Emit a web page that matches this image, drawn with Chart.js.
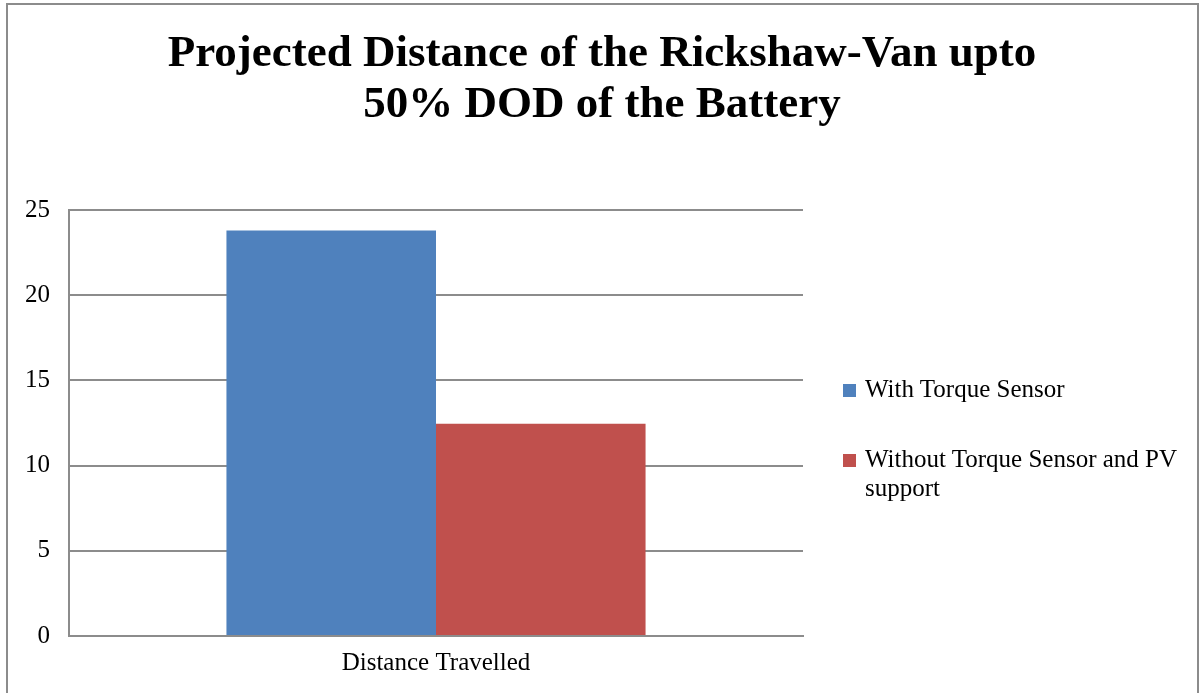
<!DOCTYPE html>
<html>
<head>
<meta charset="utf-8">
<script src="https://cdn.jsdelivr.net/npm/chart.js@4/dist/chart.umd.min.js"></script>
<style>
    html, body { margin: 0; padding: 0; background: #fff; }
    #wrap { position: relative; width: 1204px; height: 693px; overflow: hidden; }
    #frame {
        position: absolute; left: 6px; top: 3px; width: 1193px; height: 720px;
        border: 2px solid #8c8c8c; box-sizing: border-box; pointer-events: none;
    }
    #chart { position: absolute; left: 0; top: 0; }
    #legend {
        position: absolute; left: 843px; top: 374px; width: 345px;
        font-family: 'Liberation Serif', 'Times New Roman', serif; font-size: 25px; color: #000;
    }
    .leg-item { position: relative; padding-left: 22px; line-height: 29px; margin-bottom: 41px; }
    .leg-sq { position: absolute; left: 0; top: 10px; width: 13px; height: 13px; }
</style>
</head>
<body>
<div id="wrap">
    <canvas id="chart" width="1204" height="693"></canvas>
    <div id="frame"></div>
    <div id="legend"></div>
</div>
<script>
'use strict';

// ─── Données ───────────────────────────────────────────────────────────────
var categories = ['Distance Travelled'];
var seriesNames = ['With Torque Sensor', 'Without Torque Sensor and PV support'];
var withTorque = [23.8];
var withoutTorque = [12.45];
var yTicks = [0, 5, 10, 15, 20, 25];

var COLORS = { blue: '#4F81BD', red: '#C0504D', grid: '#8c8c8c' };
var SERIF = "'Liberation Serif', 'Times New Roman', serif";

function buildLegend(names, colors) {
    var legend = document.getElementById('legend');
    var html = '';
    for (var i = 0; i < names.length; i++) {
        html += '<div class="leg-item">'
            + '<span class="leg-sq" style="background:' + colors[i] + '"></span>'
            + names[i]
            + '</div>';
    }
    legend.innerHTML = html;
}

var ctx = document.getElementById('chart');

new Chart(ctx, {
    type: 'bar',
    data: {
        labels: categories,
        datasets: [
            {
                label: seriesNames[0],
                data: withTorque,
                backgroundColor: COLORS.blue,
                categoryPercentage: 0.571,
                barPercentage: 1
            },
            {
                label: seriesNames[1],
                data: withoutTorque,
                backgroundColor: COLORS.red,
                categoryPercentage: 0.571,
                barPercentage: 1
            }
        ]
    },
    options: {
        responsive: false,
        animation: false,
        layout: { padding: 0 },
        plugins: {
            legend: { display: false },
            tooltip: { enabled: false },
            title: {
                display: true,
                text: ['Projected Distance of the Rickshaw-Van upto', '50% DOD of the Battery'],
                color: '#000',
                font: { family: SERIF, size: 45, weight: 'bold', lineHeight: 1.133 },
                padding: { top: 29, bottom: 79 }
            }
        },
        scales: {
            x: {
                grid: { display: false, drawTicks: false },
                border: { color: COLORS.grid, width: 2 },
                ticks: { color: '#000', padding: 12, font: { family: SERIF, size: 25 } },
                afterFit: function(scale) { scale.height = 57; }
            },
            y: {
                min: 0,
                max: 25,
                afterBuildTicks: function(scale) {
                    scale.ticks = yTicks.map(function(v) { return { value: v }; });
                },
                grid: { color: COLORS.grid, lineWidth: 2, drawTicks: false },
                border: { color: COLORS.grid, width: 2 },
                ticks: { color: '#000', padding: 19, font: { family: SERIF, size: 25 } },
                afterFit: function(scale) { scale.width = 69; }
            },
            // espace réservé à droite pour la légende (le titre reste centré sur toute la largeur)
            ySpace: {
                type: 'linear',
                position: 'right',
                display: true,
                grid: { display: false, drawTicks: false },
                border: { display: false },
                ticks: { display: false },
                afterFit: function(scale) { scale.width = 401; }
            }
        }
    }
});

buildLegend(seriesNames, [COLORS.blue, COLORS.red]);
</script>
</body>
</html>
